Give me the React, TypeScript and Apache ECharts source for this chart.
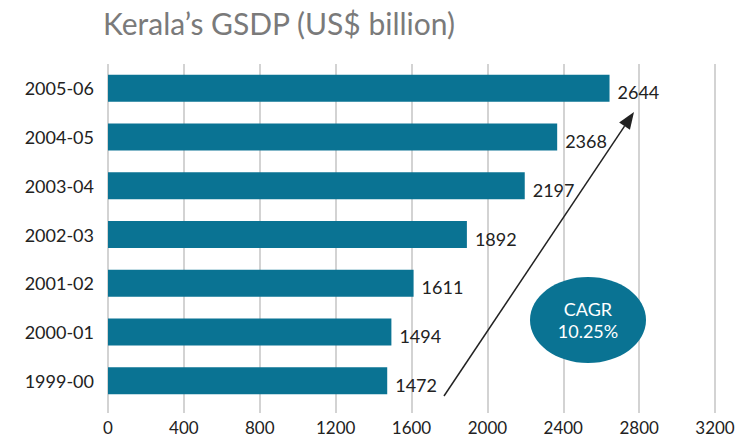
import React, { useEffect, useRef } from "react";
import * as echarts from "echarts";

const categories = ["1999-00", "2000-01", "2001-02", "2002-03", "2003-04", "2004-05", "2005-06"];
const values = [1472, 1494, 1611, 1892, 2197, 2368, 2644];
const xTicks = [0, 400, 800, 1200, 1600, 2000, 2400, 2800, 3200];
const titleText = "Kerala\u2019s GSDP (US$ billion)";
const cagrLines = ["CAGR", "10.25%"];

const FONT = "Lato, 'Open Sans', sans-serif";
const BAR = "#0a7393";

export default function App() {
  const ref = useRef<HTMLDivElement>(null);
  useEffect(() => {
    if (!ref.current) return;
    const chart = echarts.init(ref.current, undefined, { renderer: "svg" });
    // arrow geometry (annotation)
    const x1 = 444, y1 = 396, x2 = 634, y2 = 112;
    const dx = x2 - x1, dy = y2 - y1;
    const len = Math.sqrt(dx * dx + dy * dy);
    const ux = dx / len, uy = dy / len;
    const hl = 17, hw = 6.5;
    const bx = x2 - ux * hl, by = y2 - uy * hl;
    const px = -uy, py = ux;
    chart.setOption({
      animation: false,
      textStyle: { fontFamily: FONT },
      title: {
        text: titleText,
        left: 98,
        top: 3,
        textStyle: { fontFamily: FONT, fontSize: 30, fontWeight: "normal", color: "#7a7a7a" },
      },
      grid: { left: 108, right: 24, top: 64, bottom: 39, containLabel: false },
      xAxis: {
        type: "value",
        min: xTicks[0],
        max: xTicks[xTicks.length - 1],
        interval: 400,
        axisLine: { show: false },
        axisTick: { show: true, length: 8, lineStyle: { color: "#c4c4c4", width: 1.5 } },
        splitLine: { show: true, lineStyle: { color: "#c4c4c4", width: 1.5 } },
        axisLabel: {
          fontFamily: FONT,
          fontSize: 17,
          color: "#222",
          margin: 14,
          formatter: (v: number) => String(v),
        },
      },
      yAxis: {
        type: "category",
        data: categories,
        axisLine: { show: false },
        axisTick: { show: false },
        axisLabel: { fontFamily: FONT, fontSize: 18, color: "#222", margin: 14 },
      },
      series: [
        {
          type: "bar",
          data: values,
          barWidth: 27,
          itemStyle: { color: BAR },
          label: {
            show: true,
            position: "right",
            distance: 8,
            offset: [0, 4],
            fontFamily: FONT,
            fontSize: 18,
            color: "#222",
          },
        },
      ],
      graphic: [
        {
          type: "line",
          shape: { x1, y1, x2: bx, y2: by },
          style: { stroke: "#222", lineWidth: 1.5 },
          z: 100,
        },
        {
          type: "polygon",
          shape: {
            points: [
              [x2, y2],
              [bx + px * hw, by + py * hw],
              [bx - px * hw, by - py * hw],
            ],
          },
          style: { fill: "#222" },
          z: 100,
        },
        {
          type: "ellipse",
          shape: { cx: 588, cy: 320, rx: 58, ry: 43 },
          style: { fill: BAR },
          z: 100,
        },
        {
          type: "text",
          x: 588,
          y: 320,
          style: {
            text: cagrLines.join("\n"),
            fill: "#fff",
            font: `18px ${FONT}`,
            align: "center",
            verticalAlign: "middle",
            lineHeight: 22,
          },
          z: 101,
        },
      ],
    });
    return () => chart.dispose();
  }, []);
  return (
    <div
      ref={ref}
      style={{ position: "absolute", left: 0, top: 0, width: 739, height: 444 }}
    />
  );
}
